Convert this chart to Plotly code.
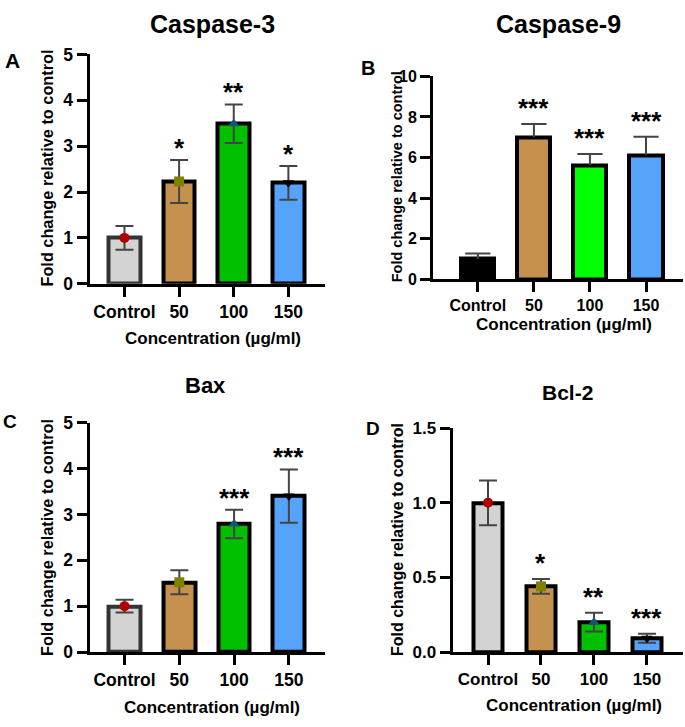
import plotly.graph_objects as go

# ---------------- data ----------------
categories = ["Control", "50", "100", "150"]

casp3_mean = [1.0, 2.23, 3.49, 2.20]
casp3_err = [0.26, 0.47, 0.42, 0.37]
casp3_stars = ["", "*", "**", "*"]

casp9_mean = [1.0, 7.0, 5.63, 6.12]
casp9_err = [0.27, 0.65, 0.54, 0.90]
casp9_stars = ["", "***", "***", "***"]

bax_mean = [1.0, 1.52, 2.79, 3.40]
bax_err = [0.14, 0.26, 0.31, 0.58]
bax_stars = ["", "", "***", "***"]

bcl2_mean = [1.0, 0.44, 0.20, 0.093]
bcl2_err = [0.15, 0.05, 0.063, 0.03]
bcl2_stars = ["", "*", "**", "***"]

panel_titles = ["Caspase-3", "Caspase-9", "Bax", "Bcl-2"]
panel_letters = ["A", "B", "C", "D"]
y_title = "Fold change relative to control"
x_title = "Concentration (µg/ml)"

# ---------------- style ----------------
W, H = 685, 727
FONT = "Arial, Liberation Sans, Helvetica, sans-serif"
ERR_COLOR = "#444444"
fill_std = ["#d3d3d3", "#c4924e", "#00c000", "#56a3fc"]
fill_b = ["#000000", "#c4924e", "#00ff00", "#56a3fc"]
marker_symbols = ["circle", "square", "triangle-up", "triangle-down"]
marker_colors = ["#b00000", "#808000", "#0d5b72", "#000000"]


def xd(a, b):
    return [a / W, b / W]


def yd(top, bottom):
    return [1 - bottom / H, 1 - top / H]


fig = go.Figure()

panels = [
    dict(mean=casp3_mean, err=casp3_err, stars=casp3_stars, fill=fill_std,
         outline=["#333333", "#000000", "#000000", "#000000"],
         xdom=(89.5, 325), xr=[-0.64, 3.67], ydom=(45.7, 281.5), yr=[0, 5], dt=1,
         bw=0.58, tick=17.5, ytit=16.3, markers=True, upper_only=False, star_shift=12,
         title_xy=(213, 14), title_size=25, letter_xy=(12, 52), letter_size=21,
         ytitle_xy=(47, 163), xtitle_xy=(213, 338), tickfmt=None),
    dict(mean=casp9_mean, err=casp9_err, stars=casp9_stars, fill=fill_b,
         outline=["#000000"] * 4,
         xdom=(433, 683), xr=[-0.8, 3.66], ydom=(68.3, 276.8), yr=[0, 10], dt=2,
         bw=0.59, tick=16, ytit=14.5, markers=False, upper_only=True, star_shift=16,
         title_xy=(558, 14), title_size=25, letter_xy=(368, 60), letter_size=20,
         ytitle_xy=(397, 172), xtitle_xy=(564, 323), tickfmt=None),
    dict(mean=bax_mean, err=bax_err, stars=bax_stars, fill=fill_std,
         outline=["#333333", "#000000", "#000000", "#000000"],
         xdom=(89.5, 325), xr=[-0.64, 3.66], ydom=(424.3, 660.2), yr=[0, 5], dt=1,
         bw=0.58, tick=17.5, ytit=16.3, markers=True, upper_only=False, star_shift=12,
         title_xy=(205, 386), title_size=22, letter_xy=(10, 423), letter_size=19,
         ytitle_xy=(47, 543), xtitle_xy=(212, 717), tickfmt=None),
    dict(mean=bcl2_mean, err=bcl2_err, stars=bcl2_stars, fill=fill_std,
         outline=["#000000"] * 4,
         xdom=(452.5, 683), xr=[-0.67, 3.68], ydom=(430, 660.2), yr=[0, 1.5], dt=0.5,
         bw=0.55, tick=17, ytit=16, markers=True, upper_only=False, star_shift=16,
         title_xy=(567, 393), title_size=21, letter_xy=(373, 430), letter_size=19,
         ytitle_xy=(397, 545), xtitle_xy=(574, 715), tickfmt=".1f"),
]

annotations = []
for i, p in enumerate(panels):
    n = "" if i == 0 else str(i + 1)
    xa, ya = "x" + n, "y" + n
    xs = list(range(len(categories)))

    if p["upper_only"]:
        err_cfg = dict(type="data", symmetric=False, array=p["err"],
                       arrayminus=[0] * len(p["err"]), color=ERR_COLOR,
                       thickness=2, width=0, visible=True)
    else:
        err_cfg = dict(type="data", array=p["err"], color=ERR_COLOR,
                       thickness=2, width=9, visible=True)

    fig.add_trace(go.Bar(
        x=xs, y=p["mean"], width=p["bw"], xaxis=xa, yaxis=ya,
        marker=dict(color=p["fill"], line=dict(color=p["outline"], width=4)),
        error_y=err_cfg, showlegend=False, hoverinfo="skip",
    ))

    tops = [m + e for m, e in zip(p["mean"], p["err"])]
    if p["upper_only"]:
        fig.add_trace(go.Scatter(
            x=xs, y=tops, mode="markers", xaxis=xa, yaxis=ya,
            marker=dict(symbol="line-ew", size=18,
                        line=dict(color=ERR_COLOR, width=2)),
            showlegend=False, hoverinfo="skip",
        ))
    if p["markers"]:
        fig.add_trace(go.Scatter(
            x=xs, y=p["mean"], mode="markers", xaxis=xa, yaxis=ya,
            marker=dict(symbol=marker_symbols, color=marker_colors, size=10,
                        line=dict(width=0)),
            showlegend=False, hoverinfo="skip",
        ))

    axis_common = dict(showline=True, linecolor="black", linewidth=3,
                       ticks="outside", ticklen=10, tickwidth=2.5, tickcolor="black",
                       showgrid=False, zeroline=False, fixedrange=True,
                       tickfont=dict(family=FONT, size=p["tick"], color="black",
                                     weight="bold"))
    fig.update_layout(**{
        ("xaxis" + n): dict(domain=xd(*p["xdom"]), range=p["xr"], anchor=ya,
                            tickmode="array", tickvals=xs, ticktext=categories,
                            **axis_common),
        ("yaxis" + n): dict(domain=yd(*p["ydom"]), range=p["yr"], anchor=xa,
                            tickmode="linear", tick0=0, dtick=p["dt"],
                            tickformat=p["tickfmt"], **axis_common),
    })

    # significance stars
    for k, s in enumerate(p["stars"]):
        if s:
            annotations.append(dict(
                x=xs[k], y=tops[k], xref=xa, yref=ya, text=s, showarrow=False,
                yanchor="middle", yshift=p["star_shift"],
                font=dict(family=FONT, size=26, color="black", weight="bold")))

    tx, ty = p["title_xy"]
    annotations.append(dict(x=tx / W, y=1 - ty / H, xref="paper", yref="paper",
                            text=panel_titles[i], showarrow=False,
                            xanchor="center", yanchor="middle",
                            font=dict(family=FONT, size=p["title_size"],
                                      color="black", weight="bold")))
    lx, ly = p["letter_xy"]
    annotations.append(dict(x=lx / W, y=1 - ly / H, xref="paper", yref="paper",
                            text=panel_letters[i], showarrow=False,
                            xanchor="center", yanchor="middle",
                            font=dict(family=FONT, size=p["letter_size"],
                                      color="black", weight="bold")))
    yx, yy = p["ytitle_xy"]
    annotations.append(dict(x=yx / W, y=1 - yy / H, xref="paper", yref="paper",
                            text=y_title, showarrow=False, textangle=-90,
                            xanchor="center", yanchor="middle",
                            font=dict(family=FONT, size=p["ytit"],
                                      color="black", weight="bold")))
    xx, xy = p["xtitle_xy"]
    annotations.append(dict(x=xx / W, y=1 - xy / H, xref="paper", yref="paper",
                            text=x_title, showarrow=False,
                            xanchor="center", yanchor="middle",
                            font=dict(family=FONT, size=17,
                                      color="black", weight="bold")))

fig.update_layout(
    width=W, height=H, margin=dict(l=0, r=0, t=0, b=0),
    paper_bgcolor="white", plot_bgcolor="white",
    annotations=annotations, bargap=0, hovermode=False,
    font=dict(family=FONT, color="black"),
)

fig.write_html("out.html", config={"displayModeBar": False},
               post_script="document.body.style.margin='0px';document.body.style.padding='0px';")
